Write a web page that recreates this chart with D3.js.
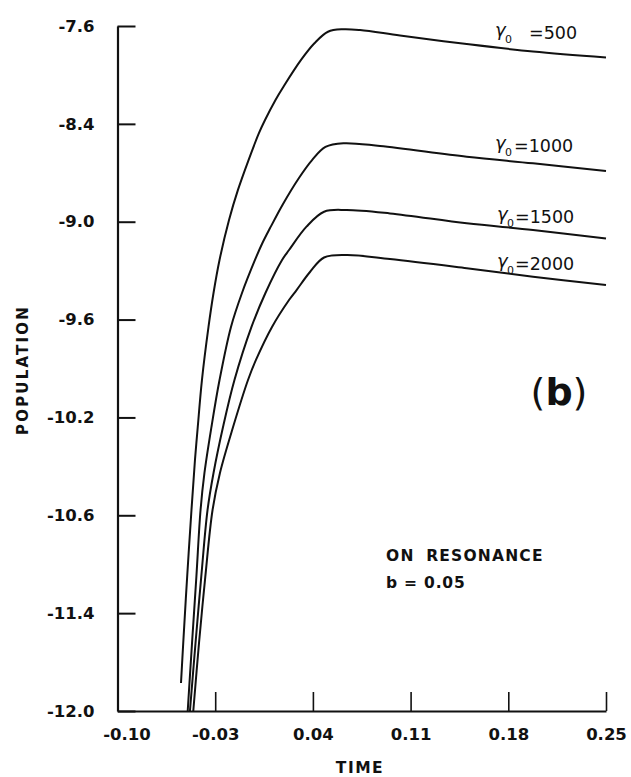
<!DOCTYPE html>
<html>
<head>
<meta charset="utf-8">
<script src="https://cdn.jsdelivr.net/npm/d3@7"></script>
<style>
  html, body { margin: 0; padding: 0; background: #fff; }
  svg { display: block; }
  text { font-family: "DejaVu Sans", sans-serif; fill: #111; }
</style>
</head>
<body>
<div id="chart"></div>
<script>
// ---- data ----
const xTickValues = [-0.10, -0.03, 0.04, 0.11, 0.18, 0.25];
const xTickLabels = ["-0.10", "-0.03", "0.04", "0.11", "0.18", "0.25"];
// y tick labels as printed (evenly spaced on the axis)
const yTickLabels = ["-7.6", "-8.4", "-9.0", "-9.6", "-10.2", "-10.6", "-11.4", "-12.0"];
const yTop = -7.6, yBottom = -12.0;

const seriesNames = ["500", "1000", "1500", "2000"];

const time500 = [-0.0545,-0.0529,-0.0501,-0.0470,-0.0445,-0.0425,-0.0395,-0.0348,-0.0312,-0.0269,-0.0201,-0.0137,-0.0061,0.0014,0.0057,0.0132,0.0189,0.0315,0.0411,0.0508,0.0616,0.0738,0.1024,0.1502,0.1977,0.2500];
const pop500  = [-11.820,-11.563,-11.139,-10.709,-10.388,-10.176,-9.874,-9.533,-9.315,-9.103,-8.846,-8.653,-8.461,-8.287,-8.204,-8.075,-7.990,-7.818,-7.711,-7.637,-7.621,-7.626,-7.661,-7.716,-7.764,-7.802];

const time1000 = [-0.0497,-0.0466,-0.0435,-0.0405,-0.0377,-0.0327,-0.0269,-0.0187,-0.0108,-0.0015,0.0035,0.0093,0.0186,0.0300,0.0394,0.0490,0.0618,0.0881,0.1502,0.1977,0.2500];
const pop1000  = [-12.000,-11.563,-11.139,-10.709,-10.471,-10.176,-9.874,-9.533,-9.315,-9.103,-9.000,-8.898,-8.743,-8.576,-8.461,-8.377,-8.353,-8.371,-8.440,-8.482,-8.531];

const time1500 = [-0.0481,-0.0441,-0.0400,-0.0355,-0.0312,-0.0244,-0.0162,-0.0040,0.0060,0.0179,0.0229,0.0354,0.0480,0.0642,0.0952,0.1502,0.1977,0.2500];
const pop1500  = [-12.000,-11.563,-11.139,-10.709,-10.471,-10.176,-9.874,-9.533,-9.315,-9.103,-9.039,-8.889,-8.793,-8.782,-8.804,-8.867,-8.910,-8.965];

const time2000 = [-0.0457,-0.0416,-0.0371,-0.0319,-0.0266,-0.0172,-0.0065,-0.0008,0.0107,0.0229,0.0283,0.0379,0.0480,0.0644,0.0952,0.1502,0.1977,0.2500];
const pop2000  = [-12.000,-11.563,-11.139,-10.709,-10.471,-10.176,-9.874,-9.745,-9.533,-9.360,-9.296,-9.180,-9.087,-9.071,-9.097,-9.156,-9.210,-9.264];

const seriesTimes = [time500, time1000, time1500, time2000];
const seriesPops  = [pop500, pop1000, pop1500, pop2000];

// ---- layout ----
const W = 631, H = 777;
const svg = d3.select("#chart").append("svg").attr("width", W).attr("height", H);

const x = d3.scaleLinear().domain([-0.10, 0.25]).range([117.5, 606]);
const y = d3.scaleLinear().domain([yBottom, yTop]).range([711, 26]);

const yTickValues = yTickLabels.map((_, i) => yTop - i * (yTop - yBottom) / (yTickLabels.length - 1));

// y axis (ticks pointing inward)
const yAxis = d3.axisLeft(y)
  .tickValues(yTickValues)
  .tickFormat((d, i) => yTickLabels[i])
  .tickSizeInner(-18).tickSizeOuter(0).tickPadding(23);
const gy = svg.append("g").attr("transform", `translate(${x(-0.10)},0)`).call(yAxis);
gy.select(".domain").attr("stroke", "#111").attr("stroke-width", 2.2);
gy.selectAll(".tick line").attr("stroke", "#111").attr("stroke-width", 2);
gy.selectAll(".tick text").attr("font-size", 16.5).attr("font-weight", "bold")
  .attr("font-family", "DejaVu Sans").attr("fill", "#111");

// x axis (ticks pointing up)
const xAxis = d3.axisBottom(x)
  .tickValues(xTickValues)
  .tickFormat((d, i) => xTickLabels[i])
  .tickSizeInner(-19).tickSizeOuter(0).tickPadding(17);
const gx = svg.append("g").attr("transform", `translate(0,${y(yBottom)})`).call(xAxis);
gx.select(".domain").attr("stroke", "#111").attr("stroke-width", 2.2);
gx.selectAll(".tick line").attr("stroke", "#111").attr("stroke-width", 1.6);
gx.selectAll(".tick text").attr("font-size", 16.5).attr("font-weight", "bold")
  .attr("font-family", "DejaVu Sans").attr("fill", "#111")
  .attr("dx", (d, i) => i === 0 ? 9 : 0);

// axis titles
svg.append("text").attr("x", 360).attr("y", 773).attr("text-anchor", "middle")
  .attr("font-size", 15.5).attr("font-weight", "bold").attr("letter-spacing", 1.5).text("TIME");
svg.append("text").attr("transform", "translate(28,370) rotate(-90)").attr("text-anchor", "middle")
  .attr("font-size", 15).attr("font-weight", "bold").attr("letter-spacing", 2.2).text("POPULATION");

// curves
const line = d3.line().x(d => x(d[0])).y(d => y(d[1])).curve(d3.curveCatmullRom.alpha(0.5));
seriesTimes.forEach((ts, k) => {
  const pts = ts.map((t, i) => [t, seriesPops[k][i]]);
  svg.append("path").datum(pts).attr("d", line)
    .attr("fill", "none").attr("stroke", "#111").attr("stroke-width", 2);
});

// curve labels
const labelPos = [
  {gx: 495, eqx: 529, by: 39},
  {gx: 495, eqx: 514, by: 152},
  {gx: 497, eqx: 515, by: 223},
  {gx: 497, eqx: 515, by: 270}
];
seriesNames.forEach((name, k) => {
  const p = labelPos[k];
  svg.append("text").attr("x", p.gx).attr("y", p.by - 3).attr("font-size", 18)
    .attr("font-style", "italic").text("γ");
  svg.append("text").attr("x", p.gx + 10).attr("y", p.by + 4).attr("font-size", 11).text("0");
  svg.append("text").attr("x", p.eqx).attr("y", p.by).attr("font-size", 17.5)
    .text("=" + name);
});

// panel label
const pb = svg.append("text").attr("x", 559).attr("y", 405).attr("text-anchor", "middle")
  .attr("font-size", 38);
pb.append("tspan").attr("font-weight", "normal").text("(");
pb.append("tspan").attr("font-weight", "bold").text("b");
pb.append("tspan").attr("font-weight", "normal").text(")");

// annotations
svg.append("text").attr("x", 386).attr("y", 561).attr("font-size", 15.5).attr("font-weight", "bold")
  .attr("letter-spacing", 1.2).attr("word-spacing", 5).text("ON RESONANCE");
svg.append("text").attr("x", 386).attr("y", 588).attr("font-size", 15.5).attr("font-weight", "bold")
  .attr("letter-spacing", 0.8).text("b = 0.05");
</script>
</body>
</html>
